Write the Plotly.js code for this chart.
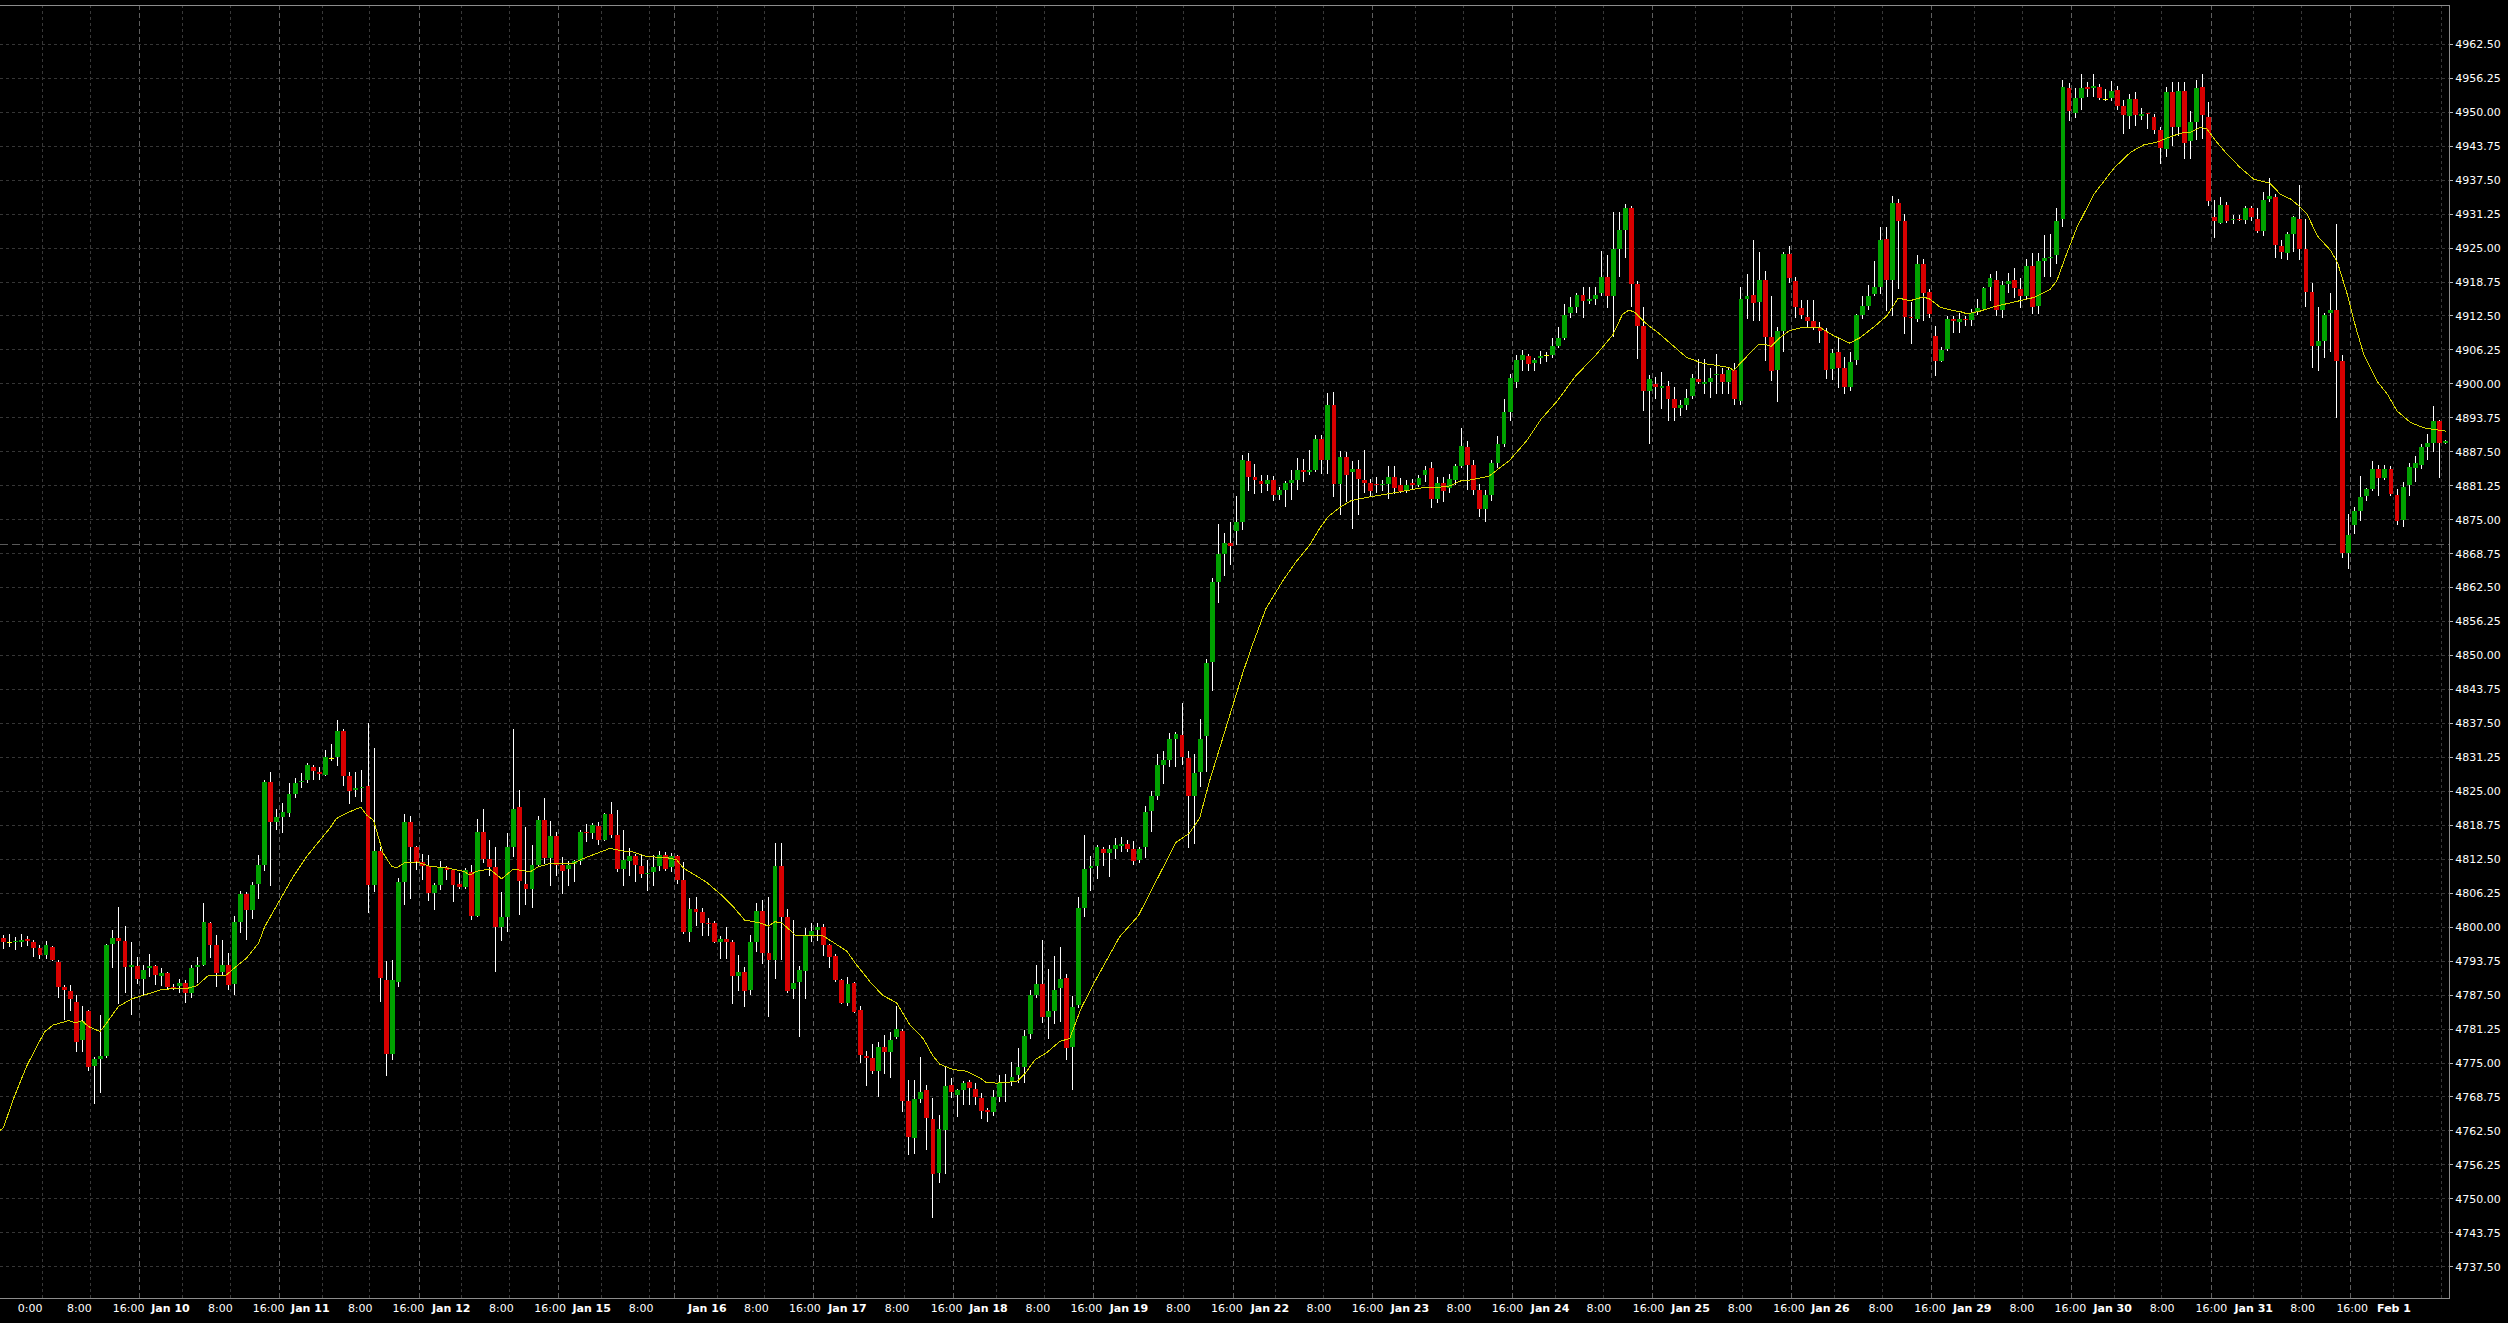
<!DOCTYPE html>
<html>
<head>
<meta charset="utf-8">
<script src="https://cdn.plot.ly/plotly-3.0.1.min.js"></script>
<style>
html,body{margin:0;padding:0;background:#000;}
#chart{width:2508px;height:1323px;}
.js-line, .barlayer path, .shapelayer path { shape-rendering: crispEdges; }
</style>
</head>
<body>
<div id="chart"></div>
<script>
// ---- hourly OHLC, bar index 0..402 ----
const open = [
4798.0,4797.1,4797.3,4797.3,4797.9,4797.3,4796.1,4794.8,4796.3,4793.6,
4789.0,4788.2,4786.3,4779.2,4784.6,4774.4,4775.7,4776.3,4796.9,4798.0,
4797.5,4792.6,4792.9,4790.5,4792.5,4792.9,4791.1,4791.5,4789.0,4789.1,
4789.7,4787.8,4792.6,4793.1,4800.7,4796.8,4791.7,4793.1,4789.5,4800.9,
4806.1,4803.1,4807.9,4811.4,4826.7,4819.4,4820.3,4821.1,4824.5,4826.7,
4827.1,4829.5,4828.6,4828.1,4831.1,4831.4,4836.1,4827.8,4825.2,4825.6,
4826.0,4807.8,4814.0,4790.3,4776.7,4790.0,4808.3,4819.4,4814.7,4812.0,
4811.2,4806.25,4807.7,4811.0,4810.5,4808.0,4807.4,4810.2,4802.1,4817.5,
4812.6,4811.1,4800.0,4801.8,4814.7,4822.1,4807.9,4807.1,4811.5,4819.8,
4812.8,4816.8,4811.5,4810.7,4811.7,4812.1,4817.5,4817.4,4818.6,4816.1,
4820.8,4817.0,4810.8,4812.2,4813.1,4811.2,4809.7,4810.2,4811.3,4813.3,
4811.1,4813.1,4808.6,4799.2,4803.4,4802.8,4800.8,4800.7,4797.3,4797.9,
4797.3,4791.0,4791.8,4788.5,4797.3,4802.9,4795.3,4794.0,4811.3,4801.8,
4788.6,4789.9,4791.9,4798.6,4799.4,4800.0,4796.7,4794.7,4790.2,4786.1,
4789.8,4784.7,4776.3,4775.9,4773.6,4777.9,4777.1,4779.8,4780.9,4768.1,
4761.2,4768.3,4770.0,4764.7,4754.8,4762.7,4770.9,4769.1,4770.0,4771.5,
4770.3,4768.5,4766.4,4766.0,4768.8,4771.4,4771.6,4772.8,4774.3,4780.3,
4787.6,4789.5,4783.4,4784.6,4788.8,4790.7,4777.9,4785.6,4803.6,4810.9,
4811.2,4814.4,4813.6,4814.4,4814.9,4815.4,4814.4,4812.3,4814.7,4821.4,
4824.2,4829.9,4830.7,4834.6,4835.4,4831.2,4824.1,4828.6,4835.1,4848.8,
4863.5,4868.7,4870.7,4872.9,4874.5,4885.8,4882.9,4882.2,4881.6,4882.3,
4879.6,4880.4,4881.8,4882.3,4884.2,4883.7,4884.2,4889.8,4885.9,4896.2,
4881.6,4886.5,4883.8,4884.4,4882.3,4881.8,4881.6,4881.4,4881.6,4882.9,
4881.4,4880.3,4881.8,4881.4,4883.2,4884.5,4878.8,4881.8,4880.9,4882.3,
4884.9,4888.4,4885.1,4880.5,4877.0,4879.5,4885.5,4888.9,4894.9,4900.3,
4904.4,4905.1,4903.9,4904.7,4905.2,4905.4,4907.0,4908.5,4913.0,4914.2,
4916.3,4915.2,4915.7,4916.8,4919.7,4916.2,4924.8,4928.3,4932.4,4918.4,
4910.6,4898.7,4900.0,4899.2,4899.6,4897.3,4895.6,4896.2,4897.7,4900.9,
4900.0,4900.4,4901.6,4901.8,4900.4,4902.5,4896.9,4915.7,4916.4,4915.0,
4919.2,4908.7,4902.6,4909.8,4923.9,4919.0,4914.0,4912.4,4911.6,4910.5,
4909.8,4902.7,4905.9,4902.9,4899.5,4904.4,4912.7,4914.3,4916.5,4917.9,
4926.7,4919.2,4933.2,4930.0,4912.3,4912.0,4922.1,4916.9,4908.8,4904.3,
4906.5,4912.0,4911.3,4912.0,4911.7,4913.2,4913.7,4917.9,4919.1,4913.6,
4918.3,4919.1,4917.5,4916.1,4921.7,4914.3,4922.6,4923.2,4923.7,4930.4,
4954.4,4949.9,4952.6,4954.7,4954.5,4954.7,4952.4,4952.6,4954.1,4951.2,
4949.3,4952.4,4949.3,4949.9,4949.1,4946.7,4943.3,4953.7,4947.2,4953.9,
4944.7,4948.2,4954.7,4949.1,4930.7,4929.7,4932.9,4930.1,4930.4,4930.2,
4932.4,4930.3,4928.2,4934.0,4934.4,4925.4,4924.0,4927.6,4930.4,4924.8,
4916.9,4907.0,4907.9,4913.0,4913.6,4904.2,4868.8,4874.0,4876.6,4879.4,
4880.7,4884.3,4882.7,4884.3,4879.6,4874.9,4881.3,4884.5,4885.1,4888.4,
4889.1,4893.2,4889.2
];
const high = [
4798.6,4798.7,4798.2,4798.8,4798.3,4797.7,4796.8,4797.4,4796.6,4793.9,
4789.3,4789.3,4787.6,4785.5,4784.8,4776.2,4783.9,4796.9,4799.5,4803.7,
4800.3,4797.3,4794.6,4793.1,4795.1,4793.1,4792.5,4791.8,4789.5,4790.4,
4790.3,4793.1,4794.6,4804.5,4801.0,4798.6,4797.7,4795.3,4802.0,4806.6,
4806.4,4808.4,4813.3,4827.1,4828.6,4821.7,4822.9,4826.6,4827.4,4828.4,
4830.3,4829.8,4829.5,4832.6,4833.8,4838.1,4836.4,4828.6,4828.6,4828.9,
4837.6,4832.9,4814.8,4793.7,4794.0,4809.0,4820.8,4820.4,4815.0,4813.5,
4813.3,4808.2,4812.1,4811.3,4810.7,4809.9,4810.9,4811.4,4819.9,4821.7,
4816.0,4814.7,4806.4,4817.4,4836.4,4825.2,4818.5,4815.1,4820.4,4823.8,
4819.5,4817.6,4813.0,4812.1,4812.4,4817.9,4819.0,4819.1,4819.3,4821.0,
4823.1,4821.6,4817.8,4814.6,4813.5,4813.5,4812.4,4813.2,4814.1,4813.9,
4813.6,4813.3,4812.0,4805.4,4805.6,4803.5,4801.7,4801.1,4798.4,4800.0,
4797.6,4794.8,4792.6,4798.6,4804.5,4805.0,4805.6,4815.5,4815.5,4803.4,
4801.3,4792.9,4799.9,4800.8,4800.8,4800.6,4796.9,4795.1,4790.4,4790.9,
4790.0,4785.5,4777.2,4778.5,4778.8,4780.1,4780.7,4785.5,4781.3,4771.9,
4771.8,4776.1,4771.0,4768.5,4765.5,4774.2,4772.2,4770.3,4771.7,4771.9,
4771.4,4769.5,4766.7,4770.0,4772.8,4772.9,4775.2,4777.7,4781.0,4788.4,
4793.0,4797.7,4792.3,4794.7,4796.4,4791.4,4787.3,4805.6,4816.9,4813.1,
4815.1,4814.8,4815.1,4816.4,4816.6,4816.0,4815.9,4814.8,4822.3,4825.1,
4831.9,4832.5,4835.7,4836.0,4841.2,4832.5,4831.9,4838.3,4849.3,4864.2,
4874.2,4872.5,4874.6,4879.4,4887.0,4887.3,4885.2,4883.3,4883.3,4883.0,
4881.1,4882.2,4884.2,4886.4,4886.2,4887.8,4890.5,4890.5,4898.3,4898.5,
4887.7,4887.5,4885.8,4885.9,4887.8,4882.5,4882.9,4882.3,4884.9,4884.9,
4882.6,4882.4,4882.5,4883.3,4884.9,4885.7,4882.9,4882.9,4883.4,4885.2,
4891.8,4889.5,4886.0,4881.5,4880.5,4886.0,4890.4,4897.2,4901.8,4905.4,
4906.2,4905.5,4904.7,4906.0,4905.9,4908.5,4910.4,4914.7,4915.9,4916.8,
4917.8,4917.8,4917.9,4924.5,4923.8,4931.7,4931.6,4933.1,4932.8,4919.0,
4914.2,4901.7,4901.2,4902.1,4900.6,4899.4,4897.0,4899.0,4901.8,4904.6,
4904.6,4903.0,4905.5,4903.0,4903.0,4903.9,4917.9,4920.3,4926.5,4924.2,
4920.7,4916.2,4910.4,4924.2,4925.4,4919.6,4915.4,4915.4,4915.4,4911.3,
4910.2,4906.4,4908.5,4905.0,4905.8,4912.8,4916.2,4918.2,4922.7,4928.8,
4928.8,4934.6,4934.1,4931.2,4915.0,4923.8,4923.0,4917.5,4910.7,4906.7,
4912.5,4912.5,4913.1,4912.5,4913.7,4915.6,4917.8,4920.2,4920.7,4918.9,
4920.5,4921.3,4919.5,4922.9,4924.0,4924.0,4927.4,4927.5,4932.4,4955.9,
4955.3,4954.4,4957.1,4955.5,4957.1,4955.2,4954.3,4955.8,4954.9,4952.2,
4953.4,4953.8,4950.7,4949.9,4949.6,4947.2,4954.7,4955.6,4955.6,4955.6,
4950.2,4955.9,4957.1,4951.8,4933.8,4934.4,4933.5,4931.1,4931.1,4932.8,
4932.8,4932.4,4935.4,4937.9,4934.9,4926.4,4928.0,4930.9,4936.6,4930.3,
4918.6,4914.2,4913.1,4916.8,4929.5,4905.3,4876.0,4877.4,4883.1,4880.9,
4885.8,4885.1,4885.1,4884.9,4880.6,4882.0,4885.5,4886.7,4888.9,4890.7,
4895.9,4893.4,4889.6
];
const low = [
4796.0,4796.3,4795.8,4796.4,4796.5,4794.5,4794.1,4794.2,4793.7,4787.0,
4783.0,4784.5,4777.1,4777.1,4773.5,4767.4,4769.5,4775.9,4792.5,4785.9,
4787.9,4783.9,4789.6,4787.6,4790.9,4789.4,4789.2,4788.4,4788.5,4787.8,
4786.0,4787.0,4789.7,4792.8,4794.3,4789.0,4791.0,4788.5,4787.6,4798.9,
4797.7,4801.5,4805.2,4810.4,4807.5,4817.9,4817.4,4820.2,4823.8,4825.6,
4826.6,4827.1,4827.0,4827.9,4830.5,4829.7,4826.0,4822.7,4824.0,4823.1,
4802.6,4806.4,4786.2,4772.7,4775.5,4789.0,4804.0,4805.2,4810.5,4808.7,
4804.8,4803.2,4806.8,4808.6,4804.7,4807.0,4807.0,4801.3,4801.9,4811.8,
4809.5,4791.8,4797.5,4799.1,4813.0,4802.2,4804.0,4803.5,4811.1,4811.7,
4807.6,4809.5,4806.2,4807.6,4808.4,4811.4,4815.7,4816.2,4815.2,4815.9,
4816.5,4810.2,4807.6,4809.4,4808.4,4809.0,4806.7,4807.5,4810.3,4810.3,
4810.2,4807.9,4798.8,4797.2,4800.2,4798.4,4798.4,4797.0,4794.2,4794.2,
4785.8,4788.3,4785.3,4787.5,4795.4,4793.2,4783.4,4790.4,4794.0,4787.9,
4786.7,4779.7,4786.7,4797.2,4797.5,4794.7,4792.4,4790.0,4785.8,4785.5,
4784.2,4775.0,4770.8,4773.0,4768.7,4773.0,4772.2,4779.5,4765.9,4758.1,
4758.3,4767.6,4759.0,4746.4,4752.9,4754.6,4768.5,4765.1,4767.2,4767.2,
4767.2,4764.7,4764.2,4765.2,4767.8,4767.8,4770.8,4771.3,4771.3,4779.5,
4786.9,4782.4,4779.5,4782.1,4782.5,4775.6,4770.0,4785.2,4801.8,4806.6,
4808.8,4811.2,4809.2,4812.5,4813.8,4813.8,4811.4,4811.9,4812.8,4817.5,
4823.5,4826.4,4829.4,4829.4,4829.9,4814.5,4815.4,4825.8,4828.6,4843.4,
4859.7,4864.6,4866.6,4870.3,4873.1,4880.3,4879.7,4880.0,4880.3,4878.5,
4878.6,4877.4,4878.7,4880.5,4881.9,4883.3,4883.8,4883.5,4883.5,4879.2,
4875.9,4878.3,4873.3,4875.9,4879.9,4879.4,4879.9,4880.3,4878.8,4879.8,
4880.0,4880.0,4880.5,4881.0,4882.0,4877.2,4878.1,4878.3,4880.0,4881.4,
4884.6,4880.5,4879.5,4875.5,4874.5,4878.5,4884.5,4888.3,4893.2,4899.3,
4902.4,4902.4,4902.3,4903.7,4904.0,4904.8,4906.6,4908.0,4912.1,4913.1,
4912.2,4914.7,4914.5,4916.2,4914.0,4908.7,4919.7,4923.2,4914.1,4904.6,
4895.0,4889.0,4897.2,4895.4,4893.2,4893.1,4894.1,4895.2,4897.2,4900.0,
4898.1,4897.4,4898.1,4898.1,4898.1,4896.2,4896.2,4911.9,4911.6,4911.6,
4904.3,4900.6,4896.6,4905.8,4918.5,4912.2,4912.0,4910.4,4909.9,4907.6,
4900.9,4900.8,4899.3,4898.1,4898.7,4903.4,4911.9,4913.6,4916.2,4916.5,
4913.5,4912.5,4917.4,4909.2,4907.3,4911.3,4911.6,4912.2,4901.5,4904.0,
4906.1,4909.3,4909.3,4910.7,4910.7,4912.6,4913.4,4915.3,4912.5,4912.2,
4916.8,4915.8,4913.9,4915.6,4912.8,4912.8,4919.7,4919.6,4922.0,4928.8,
4948.3,4949.0,4950.5,4952.8,4952.8,4952.2,4952.1,4952.1,4950.4,4945.9,
4946.9,4947.5,4948.5,4946.9,4946.0,4940.5,4941.8,4943.8,4945.6,4941.3,
4941.3,4944.8,4945.0,4932.8,4926.8,4929.4,4929.7,4929.4,4929.9,4929.4,
4930.0,4927.8,4927.2,4933.4,4923.1,4922.9,4922.8,4924.3,4922.8,4914.2,
4902.9,4902.3,4904.8,4905.8,4893.7,4868.0,4865.9,4872.3,4874.8,4878.5,
4880.2,4879.4,4882.4,4879.4,4874.0,4873.6,4879.4,4882.0,4884.3,4886.0,
4887.4,4882.6,4889.0
];
const close = [
4797.3,4797.1,4797.5,4797.6,4797.4,4796.1,4794.8,4796.8,4793.9,4789.0,
4788.4,4786.8,4778.8,4782.8,4774.2,4775.8,4776.3,4796.8,4798.0,4797.5,
4792.6,4793.0,4790.5,4792.2,4792.9,4791.2,4791.5,4789.0,4788.7,4789.7,
4787.8,4792.5,4793.0,4800.9,4796.8,4791.5,4793.1,4789.4,4800.9,4806.1,
4803.1,4807.8,4811.5,4826.7,4819.4,4820.2,4821.2,4824.5,4826.5,4826.9,
4829.8,4828.7,4828.2,4831.25,4831.1,4836.1,4827.9,4825.1,4825.7,4825.7,
4807.7,4814.0,4790.6,4776.7,4790.2,4808.3,4819.4,4814.7,4812.0,4811.2,
4806.25,4807.7,4811.0,4810.5,4807.8,4807.4,4810.5,4802.1,4817.6,4812.6,
4811.1,4800.0,4801.8,4814.7,4821.7,4808.5,4807.0,4811.4,4819.8,4812.8,
4816.8,4811.4,4810.4,4811.4,4812.1,4817.5,4817.25,4818.8,4816.1,4820.8,
4817.0,4810.8,4812.4,4813.1,4811.4,4809.8,4810.0,4811.1,4813.2,4810.8,
4813.1,4808.6,4799.2,4803.4,4802.8,4800.7,4800.5,4797.3,4797.9,4797.3,
4791.0,4791.8,4788.3,4797.3,4803.0,4795.3,4793.9,4811.3,4801.8,4788.3,
4789.8,4792.2,4798.4,4799.3,4800.0,4796.7,4794.5,4790.2,4786.1,4789.5,
4784.3,4776.5,4776.0,4773.6,4777.9,4777.1,4779.3,4781.2,4768.1,4761.4,
4768.3,4769.7,4764.9,4754.5,4762.8,4770.8,4769.7,4770.0,4771.4,4770.4,
4768.7,4766.2,4766.0,4768.8,4771.4,4771.4,4772.5,4774.3,4779.9,4787.5,
4789.5,4783.4,4784.5,4788.4,4790.4,4777.8,4785.4,4803.6,4810.7,4811.2,
4814.7,4813.6,4814.4,4815.1,4815.4,4814.3,4812.1,4814.4,4821.2,4824.2,
4829.9,4830.7,4834.6,4835.5,4831.4,4824.1,4828.4,4834.6,4848.6,4863.5,
4868.7,4870.7,4870.1,4874.6,4885.9,4882.9,4882.3,4881.6,4882.3,4879.6,
4880.5,4881.8,4882.3,4884.2,4883.7,4884.2,4889.8,4885.9,4896.2,4881.6,
4886.5,4883.3,4884.4,4882.5,4881.8,4880.3,4881.3,4881.6,4882.9,4880.9,
4880.3,4881.4,4881.4,4882.6,4884.2,4878.8,4881.8,4880.3,4882.5,4884.9,
4888.5,4885.1,4880.5,4877.0,4879.5,4885.5,4888.9,4894.9,4901.1,4904.4,
4905.4,4903.6,4904.4,4905.1,4905.2,4906.9,4908.4,4912.7,4914.2,4916.3,
4915.2,4915.7,4916.3,4919.6,4916.2,4924.8,4928.3,4932.4,4918.4,4910.6,
4898.7,4900.9,4899.5,4899.6,4897.3,4895.5,4896.2,4897.4,4901.1,4900.3,
4900.3,4901.1,4901.8,4900.4,4902.5,4897.3,4915.7,4916.2,4914.8,4919.2,
4908.7,4902.4,4909.8,4923.9,4919.5,4914.1,4912.7,4911.6,4910.5,4909.8,
4902.5,4905.7,4902.9,4899.5,4904.0,4912.7,4914.3,4916.2,4917.9,4926.5,
4919.2,4933.2,4930.0,4912.4,4912.1,4922.1,4916.8,4912.8,4904.3,4906.3,
4912.0,4911.6,4912.0,4911.7,4913.0,4913.9,4917.6,4919.4,4913.6,4918.2,
4918.9,4917.7,4916.1,4921.7,4914.2,4922.6,4923.2,4923.4,4930.0,4954.7,
4950.2,4952.6,4954.4,4954.2,4954.8,4952.6,4952.4,4953.9,4951.2,4949.5,
4952.4,4949.5,4949.7,4949.6,4946.7,4943.5,4953.7,4947.2,4953.9,4944.4,
4948.2,4954.5,4949.5,4933.7,4930.0,4932.9,4930.0,4930.4,4930.1,4932.4,
4930.7,4928.2,4933.8,4934.6,4925.6,4924.2,4927.6,4930.8,4924.9,4917.0,
4907.0,4907.9,4912.7,4913.6,4904.2,4868.8,4872.2,4876.6,4879.2,4880.6,
4884.3,4882.7,4884.3,4879.7,4874.7,4881.1,4884.7,4885.5,4888.4,4889.1,
4893.2,4889.1,4889.4
];

// ---- moving average (bar index, value) ----
const maIdx = [-0.6,0,1.6,3.8,5.5,6.8,8.2,10.7,11.9,12.9,14,15.9,17,18.9,21.1,23.6,26.3,30.1,31.8,33.7,36.7,37.8,40,42,43,45.5,47.7,49.9,53.7,54.8,56.5,58.8,59.8,60.9,62.5,63.9,64.7,66.1,68,70.2,73,75.7,76.8,77.9,80,82,83.9,86.7,88,89.9,93.8,94.9,97.1,99.8,102,103.1,105.9,109.2,110.8,111.9,115.7,118.5,120.1,122,124.5,125.9,127,128.1,130.5,133.3,134.9,136.6,138.8,140.4,142.9,144.8,147,149.2,151.4,153,154.1,156.3,158.5,160.7,161.8,163.5,166.8,168.1,169.8,171.7,173.9,175.5,177.4,179.4,181.5,183.7,186.8,189,191.4,193,195.2,196.9,198.5,200.7,202.3,204,205.6,207.8,210.6,212.8,215,216.6,218,219.9,221.8,224.9,228.2,230.9,233.6,235.8,238,240.2,241.3,244.5,247.9,250.7,253.1,255.8,258.8,261.8,263.8,264.9,266.5,267.6,268.6,270.4,272.6,274.8,277,279.7,282.5,284.1,284.8,286.9,288.8,289.9,291,292.4,294,296.2,299,301.2,303.9,305.6,307.8,310,311.9,313.8,316,317.1,318.8,320.9,322.1,323.2,325.4,327.6,329.8,332,334.2,336.9,338,339.4,341.3,344.1,347.4,350.1,352.3,354.5,356.7,358.9,360,361.6,362.7,364.4,366,368.2,370.4,373.1,374.8,376.5,378.1,379.2,380.9,383.1,384.2,385.8,387.2,388.5,390.7,392.4,394,396.2,398.4,400.1,402];
const maVal = [4762.6,4763.1,4768.3,4774.4,4778.1,4780.8,4782.0,4782.8,4782.4,4782.8,4781.7,4780.8,4782.4,4785.4,4786.8,4787.7,4788.6,4788.7,4789.2,4791.1,4791.2,4792.3,4794.3,4797.1,4800.1,4805.0,4809.3,4813.0,4818.2,4820.0,4821.0,4822.1,4820.6,4819.7,4813.6,4811.2,4810.9,4811.9,4812.0,4811.2,4810.9,4810.3,4809.6,4810.3,4810.7,4808.9,4810.7,4810.2,4811.1,4811.7,4811.7,4812.4,4813.3,4814.5,4814.0,4814.0,4813.0,4812.8,4812.4,4810.9,4808.3,4805.6,4803.8,4801.3,4800.8,4800.2,4801.0,4800.8,4798.4,4798.4,4798.4,4797.2,4795.6,4793.1,4789.6,4787.4,4786.1,4782.0,4779.5,4776.3,4774.8,4773.8,4773.5,4772.3,4771.4,4771.3,4771.6,4773.0,4775.6,4776.9,4779.0,4779.5,4785.1,4789.5,4793.8,4798.2,4802.1,4806.9,4812.1,4815.6,4817.3,4820.1,4826.8,4834.7,4840.7,4846.8,4852.0,4858.6,4863.8,4867.3,4870.3,4873.3,4875.5,4877.2,4878.5,4879.2,4879.8,4880.3,4880.9,4880.9,4881.2,4882.3,4882.3,4883.0,4885.9,4889.5,4893.5,4896.9,4901.5,4904.9,4907.5,4909.0,4912.8,4913.6,4913.1,4911.1,4909.2,4907.0,4904.9,4903.8,4903.3,4903.0,4902.5,4905.0,4907.2,4907.3,4906.9,4908.5,4909.8,4910.4,4910.4,4908.9,4907.5,4908.5,4910.4,4912.5,4915.8,4915.3,4916.0,4915.6,4914.1,4913.5,4913.3,4912.9,4913.4,4914.2,4914.8,4915.4,4915.9,4917.4,4919.0,4923.3,4928.8,4934.9,4939.7,4942.6,4944.0,4944.5,4945.5,4946.3,4946.3,4947.2,4946.9,4944.4,4942.3,4939.8,4937.7,4936.9,4934.9,4934.0,4932.5,4931.2,4927.2,4924.5,4922.3,4916.5,4910.4,4905.5,4900.5,4898.1,4895.0,4892.9,4891.9,4891.6,4891.3];

// ---- calendar: bars per session (Jan 9 .. Feb 1) ----
const sessionBars = [23,23,23,23,19,23,23,23,23,23,23,23,23,23,23,23,23,16];

// ---- x tick labels (bar index where each label sits) ----
const tickText = ["0:00","8:00","16:00","Jan 10","8:00","16:00","Jan 11","8:00","16:00","Jan 12","8:00","16:00","Jan 15","8:00","Jan 16","8:00","16:00","Jan 17","8:00","16:00","Jan 18","8:00","16:00","Jan 19","8:00","16:00","Jan 22","8:00","16:00","Jan 23","8:00","16:00","Jan 24","8:00","16:00","Jan 25","8:00","16:00","Jan 26","8:00","16:00","Jan 29","8:00","16:00","Jan 30","8:00","16:00","Jan 31","8:00","16:00","Feb 1"];
const tickPos = [4.38,12.49,20.58,27.49,35.69,43.64,50.50,58.72,66.65,73.70,81.96,89.98,96.81,104.97,115.85,123.93,131.92,138.93,147.08,155.24,162.14,170.27,178.25,185.25,193.37,201.37,208.46,216.53,224.56,231.51,239.55,247.57,254.58,262.62,270.78,277.71,285.84,293.91,300.74,309.04,317.12,324.07,332.23,340.21,347.18,355.33,363.42,370.41,378.44,386.62,393.5];

// ---- price axis labels ----
const yTickFirst = 4737.5, yTickStep = 6.25, yTickCount = 37;

const levelLine = 4870.5;

// ---------------- build traces ----------------
const N = open.length;
const idx = open.map((_, i) => i);

const wx = [], wy = [];
for (let i = 0; i < N; i++) { wx.push(i, i, null); wy.push(low[i], high[i], null); }

const minH = 0.19;
const bodyBase = [], bodyH = [], bodyCol = [];
for (let i = 0; i < N; i++) {
  const o = open[i], c = close[i];
  const d = Math.abs(c - o);
  if (d < minH) { bodyBase.push((o + c) / 2 - minH / 2); bodyH.push(minH); }
  else { bodyBase.push(Math.min(o, c)); bodyH.push(d); }
  bodyCol.push(c > o ? '#00a000' : (c < o ? '#d80000' : '#ffff00'));
}

// wicks on the base subplot; bodies + MA on an overlaid subplot so they draw on top
const wicks = {
  type: 'scatter', mode: 'lines', x: wx, y: wy, xaxis: 'x', yaxis: 'y',
  line: { color: '#ffffff', width: 1 }, hoverinfo: 'skip', connectgaps: false
};
const bodies = {
  type: 'bar', x: idx, y: bodyH, base: bodyBase, width: 0.8, xaxis: 'x2', yaxis: 'y2',
  marker: { color: bodyCol, line: { width: 0 } }, hoverinfo: 'skip'
};
const ma = {
  type: 'scatter', mode: 'lines', x: maIdx, y: maVal, xaxis: 'x2', yaxis: 'y2',
  line: { color: '#d6d600', width: 1 }, hoverinfo: 'skip'
};

// vertical grid lines derived from the sessions
const shapes = [];
let s = 0;
for (let d = 0; d < sessionBars.length; d++) {
  const marks = [[s - 0.6, true], [s + 6.45, false], [s + 14.3, false]];
  marks.forEach(([xv, day]) => {
    shapes.push({
      type: 'line', xref: 'x', yref: 'paper', x0: xv, x1: xv, y0: 0, y1: 1, layer: 'below',
      line: { color: day ? '#5e5e5e' : '#383838', width: 1, dash: day ? '5px,3px' : '3px,3px' }
    });
  });
  s += sessionBars[d];
}
shapes.push({
  type: 'line', xref: 'paper', yref: 'y', x0: 0, x1: 1, y0: levelLine, y1: levelLine, layer: 'below',
  line: { color: '#5a5a5a', width: 1, dash: '8px,4px' }
});

const yTicks = [];
for (let k = 0; k < yTickCount; k++) yTicks.push(yTickFirst + k * yTickStep);

const xRange = [-0.576, 402.55];
const yRange = [4731.75, 4969.55];
const fnt = { family: 'DejaVu Sans, Verdana, sans-serif', size: 11, color: '#ffffff' };
const layout = {
  width: 2508, height: 1323,
  margin: { l: 0, r: 59, t: 6, b: 25, pad: 0 },
  paper_bgcolor: '#000000', plot_bgcolor: '#000000',
  showlegend: false, hovermode: false, bargap: 0, barmode: 'overlay',
  xaxis: {
    range: xRange, tickmode: 'array', tickvals: tickPos,
    ticktext: tickText.map(t => /^(Jan|Feb)/.test(t) ? '<b>' + t + '</b>' : t),
    ticks: '', showgrid: false, zeroline: false, tickfont: fnt,
    showline: true, mirror: true, linecolor: '#8c8c8c', linewidth: 1,
    automargin: false, fixedrange: true
  },
  yaxis: {
    side: 'right', range: yRange, tickmode: 'array', tickvals: yTicks,
    ticktext: yTicks.map(v => v.toFixed(2)),
    ticks: 'outside', ticklen: 3, tickcolor: '#bdbdbd', tickfont: fnt,
    showgrid: true, gridcolor: '#363636', griddash: '3px,3px', gridwidth: 1,
    zeroline: false, showline: true, mirror: true, linecolor: '#8c8c8c', linewidth: 1,
    automargin: false, fixedrange: true
  },
  xaxis2: { overlaying: 'x', range: xRange, visible: false, fixedrange: true },
  yaxis2: { overlaying: 'y', range: yRange, visible: false, fixedrange: true },
  shapes: shapes
};

Plotly.newPlot('chart', [wicks, bodies, ma], layout, { displayModeBar: false, staticPlot: true });
</script>
</body>
</html>
